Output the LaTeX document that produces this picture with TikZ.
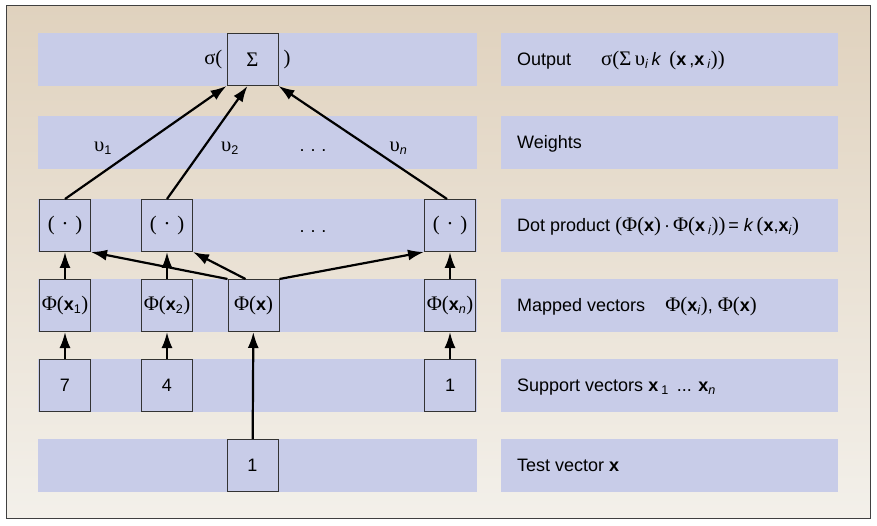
\documentclass[tikz,border=0pt]{standalone}
\usepackage{fontspec}
\setmainfont{Liberation Sans}
\newfontfamily\grk[Scale=1.15]{Liberation Serif}
\usetikzlibrary{arrows.meta}

\definecolor{band}{RGB}{200,204,232}
\definecolor{tantop}{RGB}{224,210,190}
\definecolor{tanbot}{RGB}{243,240,234}

\newcommand\gk[1]{{\grk #1}}
\newcommand\bx{\textbf{x}}
\newcommand\sub[1]{\textsubscript{#1}}

\tikzset{
  unit/.style={draw=black!80, fill=band, line width=1bp, minimum width=51bp,
    minimum height=52bp, inner sep=0pt},
  lbl/.style={anchor=base west, inner sep=0pt},
  wlbl/.style={anchor=base, inner sep=0pt},
  arr/.style={-{Latex[length=16bp,width=11bp]}, line width=2.2bp},
}

\begin{document}
\begin{tikzpicture}[x=1bp,y=-1bp,font=\fontsize{18bp}{21bp}\selectfont]
  \useasboundingbox (0,0) rectangle (877,526);
  \shadedraw[top color=tantop, bottom color=tanbot, draw=black!75, line width=1bp]
    (6,6) rectangle (870,518);

  % layer bands
  \foreach \y in {33,116,199,279,359,439} {
    \fill[band] (38,\y) rectangle (477,\y+53);
    \fill[band] (501,\y) rectangle (838,\y+53);
  }

  % output
  \node[unit] (sig) at (252.5,59.5) {\gk{Σ}};
  \node[anchor=east, inner sep=0pt] (sigl) at ([xshift=-4bp]sig.west) {\gk{σ(}};
  \node[anchor=west, inner sep=0pt] (sigr) at ([xshift=5bp]sig.east) {\gk{)}};

  % dot products
  \node[unit] (dot1) at (65,225.5) {\gk{(\,\,·\,\,)}};
  \node[unit] (dot2) at (167,225.5) {\gk{(\,\,·\,\,)}};
  \node[unit] (dotn) at (450,225.5) {\gk{(\,\,·\,\,)}};
  \node[wlbl] (dotd) at (313,233) {.\hskip6bp.\hskip6bp.};

  % mapped vectors
  \node[unit] (ph1) at (65,305.5) {\gk{Φ(}\bx\sub{1}\gk{)}};
  \node[unit] (ph2) at (167,305.5) {\gk{Φ(}\bx\sub{2}\gk{)}};
  \node[unit] (phx) at (253.5,305.5) {\gk{Φ(}\bx\gk{)}};
  \node[unit] (phn) at (450,305.5) {\gk{Φ(}\bx\sub{\textit{n}}\gk{)}};

  % support vectors and test vector
  \node[unit] (s7) at (65,385.5) {7};
  \node[unit] (s4) at (167,385.5) {4};
  \node[unit] (s1) at (450,385.5) {1};
  \node[unit] (t1) at (252.5,465.5) {1};

  % weights
  \node[wlbl] (w1) at (103,152) {\gk{υ}\sub{1}};
  \node[wlbl] (w2) at (230,152) {\gk{υ}\sub{2}};
  \node[wlbl] (wd) at (313,152) {.\hskip6bp.\hskip6bp.};
  \node[wlbl] (wn) at (398.5,152) {\gk{υ}\sub{\textit{n}}};

  % connections
  \draw[arr] (dot1.north) -- (sig.south west);
  \draw[arr] (dot2.north) -- ([xshift=-5bp]sig.south);
  \draw[arr] ([xshift=-3bp]dotn.north) -- (sig.south east);

  \draw[arr] (phx.north west) -- (dot1.south east);
  \draw[arr] ([xshift=-8bp]phx.north) -- (dot2.south east);
  \draw[arr] (phx.north east) -- (dotn.south west);
  \draw[arr] (ph1) -- (dot1);
  \draw[arr] (ph2) -- (dot2);
  \draw[arr] (phn) -- (dotn);

  \draw[arr] (s7) -- (ph1);
  \draw[arr] (s4) -- (ph2);
  \draw[arr] (s1) -- (phn);
  \draw[arr] (t1) -- (phx);

  % legend
  \node[lbl] (lout) at (517,65.8) {Output\hspace{30bp}\gk{σ(Σ\,υ}\sub{\textit{i}}\,\textit{k}\, \gk{(}\bx\,,\bx\,\sub{\textit{i}}\gk{))}};
  \node[lbl] (lwgt) at (517,148.3) {Weights};
  \node[lbl] (ldot) at (517,231.8) {Dot product \gk{(Φ(}\bx\gk{)}\,·\,\gk{Φ(}\bx\,\sub{\textit{i}}\gk{))}\,= \textit{k}\,\gk{(}\bx,\bx\sub{\textit{i}}\gk{)}};
  \node[lbl] (lmap) at (517,311.8) {Mapped vectors\hspace{20bp}\gk{Φ(}\bx\sub{\textit{i}}\gk{)}, \gk{Φ(}\bx\gk{)}};
  \node[lbl] (lsup) at (517,391.8) {Support vectors \bx\,\sub{1}\, ... \bx\sub{\textit{n}}};
  \node[lbl] (ltst) at (517,471.8) {Test vector \bx};
\end{tikzpicture}
\end{document}
